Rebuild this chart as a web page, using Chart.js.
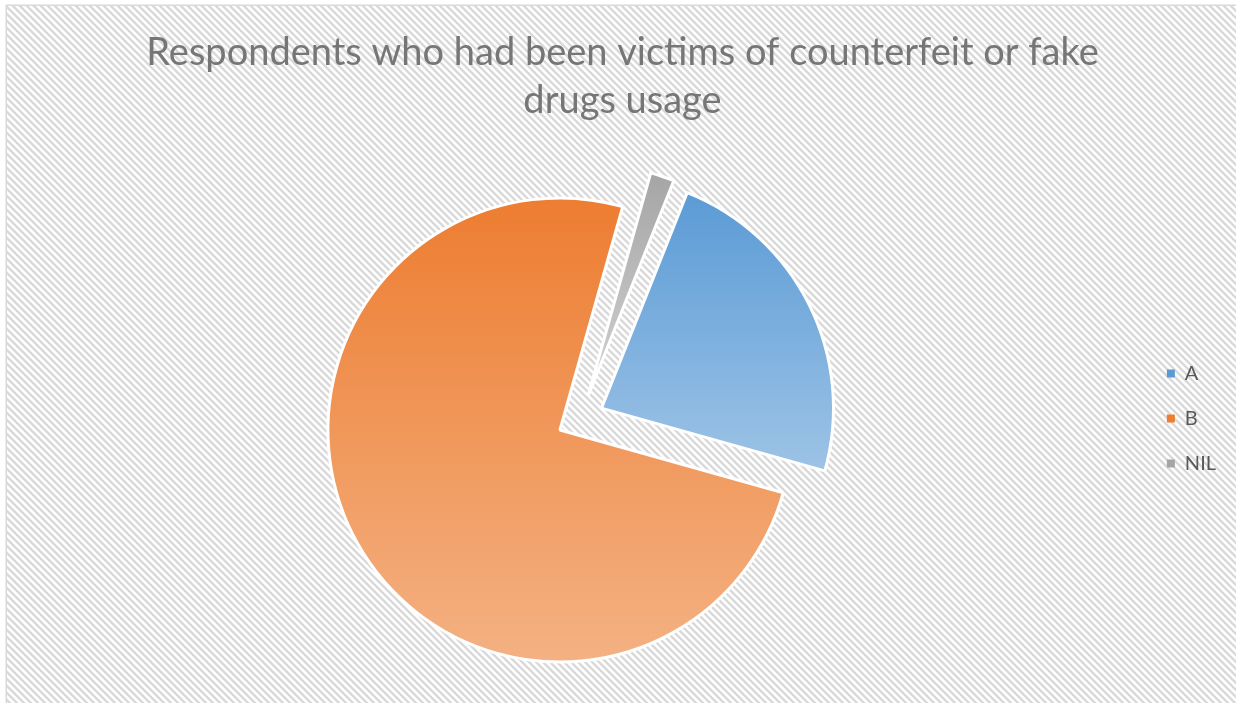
<!DOCTYPE html>
<html>
<head>
<meta charset="utf-8">
<title>Counterfeit drugs survey</title>
<script src="https://cdn.jsdelivr.net/npm/chart.js@4.4.1/dist/chart.umd.min.js"></script>
<style>
  html, body { margin: 0; padding: 0; background: #fff; }
  #wrap { width: 1236px; height: 703px; }
</style>
</head>
<body>
<div id="wrap"><canvas id="victimsChart" width="1236" height="703"></canvas></div>
<script>
const categories = ['A', 'B', 'NIL'];
const respondents = [28, 90, 2];
const topColors = ['#5B9BD5', '#ED7D31', '#A5A5A5'];
const bottomColors = ['#9DC3E6', '#F4B183', '#D2D2D2'];
const titleLines = ['Respondents who had been victims of counterfeit or fake', 'drugs usage'];

const FONT = 'Lato';
const ROTATION = 21.7;   // degrees, first slice starts a bit past 12 o'clock
const RADIUS = 232;
const EXPLODE = 23.5;

// Chart.js grows big slices when `offset` is used, so push every slice
// out by the same distance ourselves and leave the radius alone.
const baseArcDraw = Chart.ArcElement.prototype.draw;
Chart.ArcElement.prototype.draw = function (ctx) {
    const half = (this.startAngle + this.endAngle) / 2;
    ctx.save();
    ctx.translate(Math.cos(half) * EXPLODE, Math.sin(half) * EXPLODE);
    baseArcDraw.call(this, ctx);
    ctx.restore();
};

// vertical gradient spanning each slice's own height
function sliceGradient(context) {
    const i = context.dataIndex;
    const chart = context.chart;
    const area = chart.chartArea;
    if (!area) return topColors[i];

    const total = respondents.reduce((a, b) => a + b, 0);
    let before = 0;
    for (let k = 0; k < i; k++) before += respondents[k];
    const a0 = (ROTATION + before / total * 360) * Math.PI / 180;
    const a1 = a0 + respondents[i] / total * 2 * Math.PI;

    let minY = 0, maxY = 0;
    for (let s = 0; s <= 60; s++) {
        const y = -RADIUS * Math.cos(a0 + (a1 - a0) * s / 60);
        minY = Math.min(minY, y);
        maxY = Math.max(maxY, y);
    }
    const cy = (area.top + area.bottom) / 2;
    const g = chart.ctx.createLinearGradient(0, cy + minY, 0, cy + maxY);
    g.addColorStop(0, topColors[i]);
    g.addColorStop(1, bottomColors[i]);
    return g;
}

// striped backdrop and the thin frame line
const hatchBackground = {
    id: 'hatchBackground',
    beforeDraw(chart) {
        const { ctx, width, height } = chart;
        const n = 7;
        const tile = document.createElement('canvas');
        tile.width = n;
        tile.height = n;
        const t = tile.getContext('2d');
        t.fillStyle = '#ffffff';
        t.fillRect(0, 0, n, n);
        t.strokeStyle = '#d9d9d9';
        t.lineWidth = 2.4;
        t.beginPath();
        t.moveTo(-1, -1); t.lineTo(n + 1, n + 1);
        t.moveTo(-1, n - 1); t.lineTo(1, n + 1);
        t.moveTo(n - 1, -1); t.lineTo(n + 1, 1);
        t.stroke();

        ctx.save();
        ctx.fillStyle = '#ffffff';
        ctx.fillRect(0, 0, width, height);
        ctx.fillStyle = ctx.createPattern(tile, 'repeat');
        ctx.fillRect(7, 6, width, height);
        ctx.strokeStyle = '#d9d9d9';
        ctx.lineWidth = 1.5;
        ctx.strokeRect(6.25, 5.25, width + 10, height + 10);
        ctx.restore();
    }
};

new Chart(document.getElementById('victimsChart').getContext('2d'), {
    type: 'pie',
    data: {
        labels: categories,
        datasets: [{
            data: respondents,
            backgroundColor: sliceGradient,
            borderColor: '#ffffff',
            borderWidth: 3,
            hoverOffset: 0
        }]
    },
    options: {
        responsive: false,
        animation: false,
        rotation: ROTATION,
        radius: RADIUS,
        layout: {
            padding: { left: 19, right: 10, top: 0, bottom: 0 }
        },
        plugins: {
            title: {
                display: true,
                text: titleLines,
                color: '#767676',
                font: { family: FONT, size: 38, weight: 'normal', lineHeight: 48 / 38 },
                padding: { top: 29, bottom: 9 }
            },
            legend: {
                position: 'right',
                align: 'center',
                fullSize: false,
                labels: {
                    boxWidth: 8,
                    boxHeight: 8,
                    padding: 25,
                    color: '#595959',
                    font: { family: FONT, size: 20 },
                    generateLabels(chart) {
                        const items = Chart.overrides.doughnut.plugins.legend.labels.generateLabels(chart);
                        items.forEach((item, i) => {
                            item.fillStyle = topColors[i];
                            item.strokeStyle = '#ffffff';
                            item.lineWidth = 0;
                        });
                        return items;
                    }
                }
            },
            tooltip: { enabled: false }
        }
    },
    plugins: [hatchBackground]
});
</script>
</body>
</html>
